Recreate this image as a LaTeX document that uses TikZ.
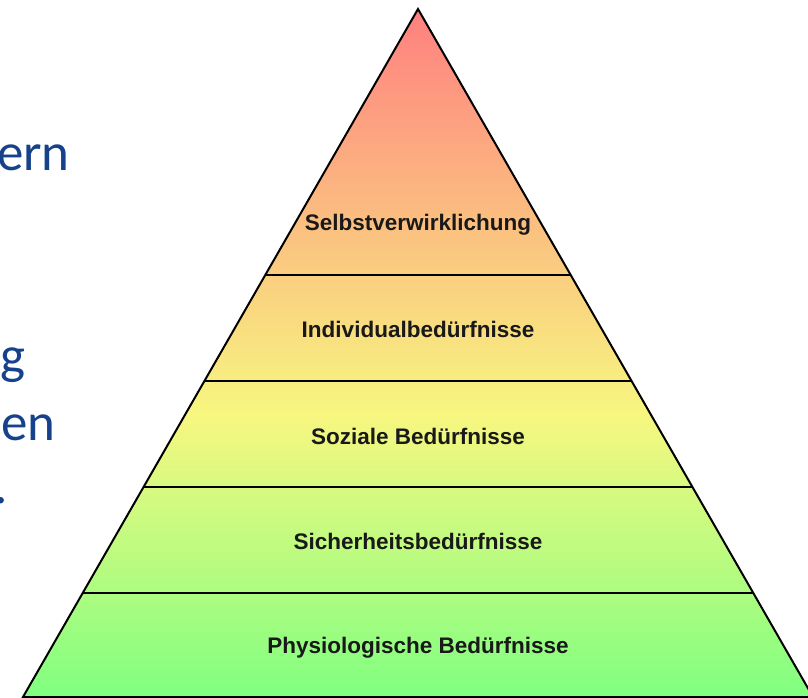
\documentclass[tikz,border=0pt]{standalone}
\usepackage{fontspec}
\setmainfont{Liberation Sans}
\newfontfamily\labelfont{Liberation Sans}
\newfontfamily\slidefont{Carlito}
\usetikzlibrary{calc}
\definecolor{pyrred}{RGB}{255,128,128}
\definecolor{pyryellow}{RGB}{247,247,128}
\definecolor{pyrgreen}{RGB}{128,255,128}
\definecolor{slideblue}{RGB}{22,66,140}
\pgfdeclareverticalshading{pyrshade}{100bp}{color(0bp)=(pyrgreen); color(25bp)=(pyrgreen); color(45.5bp)=(pyryellow); color(75bp)=(pyrred); color(100bp)=(pyrred)}
\tikzset{
  level/.style={font=\labelfont\bfseries\fontsize{22.5}{26}\selectfont, text=black!90, inner sep=0pt, anchor=base},
  slide/.style={font=\slidefont\fontsize{53}{60}\selectfont, text=slideblue, inner sep=0pt, anchor=base east},
  outline/.style={draw=black, line width=2pt, line join=miter},
  divider/.style={draw=black, line width=2pt}
}
\begin{document}
\begin{tikzpicture}[x=1pt,y=-1pt]
  \useasboundingbox (0,0) rectangle (808,698);
  \coordinate (apex) at (418,9);
  \coordinate (bl) at (23,697);
  \coordinate (br) at (813,697);
  \shade[shading=pyrshade] (apex) -- (bl) -- (br) -- cycle;
  \foreach \n/\t in {a/0.3866, b/0.5407, c/0.6948, d/0.8488}{
    \coordinate (L\n) at ($(apex)!\t!(bl)$);
    \coordinate (R\n) at ($(apex)!\t!(br)$);
  }
  \draw[divider] (La) -- (Ra);
  \draw[divider] (Lb) -- (Rb);
  \draw[divider] (Lc) -- (Rc);
  \draw[divider] (Ld) -- (Rd);
  \draw[outline] (apex) -- (bl) -- (br) -- cycle;
  \node[level] (l5) at (418,230) {Selbstverwirklichung};
  \node[level] (l4) at (418,337) {Individualbedürfnisse};
  \node[level] (l3) at (418,444) {Soziale Bedürfnisse};
  \node[level] (l2) at (418,549) {Sicherheitsbedürfnisse};
  \node[level] (l1) at (418,653) {Physiologische Bedürfnisse};
  \node[slide] (s1) at (70,170) {ern};
  \node[slide] (s2) at (26,373) {g};
  \node[slide] (s3) at (56,440) {en};
  \node[slide] (s4) at (8,503) {.};
\end{tikzpicture}
\end{document}
